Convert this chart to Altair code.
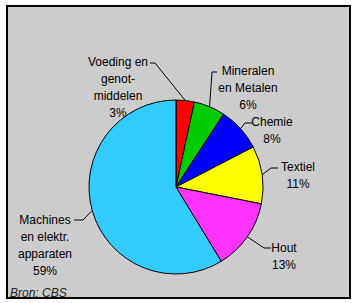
import math
import altair as alt
import pandas as pd

# ---- data ----
categories = ["Voeding en genot-middelen", "Mineralen en Metalen", "Chemie",
              "Textiel", "Hout", "Machines en elektr. apparaten"]
values = [3.4, 5.8, 8.2, 10.7, 13.2, 58.7]
label_texts = ["Voeding en\ngenot-\nmiddelen\n3%", "Mineralen\nen Metalen\n6%",
               "Chemie\n8%", "Textiel\n11%", "Hout\n13%",
               "Machines\nen elektr.\napparaten\n59%"]
colors = ["#FF0000", "#00CC00", "#0000FF", "#FFFF00", "#FF33FF", "#33CCFF"]

# ---- layout (page pixels) ----
W, H = 356, 303
PAD_L, PAD_T, PAD_R, PAD_B = 7, 6, 6, 5
CX, CY, R = 176, 187, 87
elbow_x = [155, 212, 245, 271, 264, 83]
elbow_y = [63, 72, 123, 168, 248, 220]
tick_x = [150, 217, 252, 278, 271, 74]
label_x = [118, 248, 272, 298, 284, 45]
label_y = [62, 71, 122, 167, 248, 220]

vw, vh = W - PAD_L - PAD_R, H - PAD_T - PAD_B

pie_df = pd.DataFrame({"cat": categories, "value": values,
                       "idx": list(range(len(categories)))})

# leader lines: start on pie edge at mid-angle of each slice
total = sum(values)
rows = []
cum = 0.0
for i, v in enumerate(values):
    mid = (cum + v / 2) / total * 2 * math.pi
    cum += v
    sx = CX + R * math.sin(mid)
    sy = CY - R * math.cos(mid)
    pts = [(sx, sy), (elbow_x[i], elbow_y[i]), (tick_x[i], elbow_y[i])]
    for k, (px, py) in enumerate(pts):
        rows.append({"cat": categories[i], "k": k, "x": px - PAD_L, "y": py - PAD_T})
lead_df = pd.DataFrame(rows)

lab_df = pd.DataFrame({"t": label_texts,
                       "x": [v - PAD_L for v in label_x],
                       "y": [v - PAD_T for v in label_y]})

pie = alt.Chart(pie_df).mark_arc(outerRadius=R, stroke="black", strokeWidth=1).encode(
    theta=alt.Theta("value:Q", stack=True),
    order=alt.Order("idx:Q"),
    color=alt.Color("cat:N", scale=alt.Scale(domain=categories, range=colors), legend=None),
    x=alt.value(CX - PAD_L),
    y=alt.value(CY - PAD_T),
)

leads = alt.Chart(lead_df).mark_line(color="black", strokeWidth=1).encode(
    x=alt.X("x:Q", scale=None, axis=None),
    y=alt.Y("y:Q", scale=None, axis=None),
    detail="cat:N",
    order="k:Q",
)

labels = alt.Chart(lab_df).mark_text(
    font="Liberation Sans", fontSize=12, lineBreak="\n", lineHeight=17,
    align="center", baseline="middle", color="black"
).encode(
    x=alt.X("x:Q", scale=None, axis=None),
    y=alt.Y("y:Q", scale=None, axis=None),
    text="t:N",
)

source = alt.Chart(pd.DataFrame({"t": ["Bron: CBS"]})).mark_text(
    font="Liberation Sans", fontSize=12, fontStyle="italic", align="left",
    baseline="alphabetic", color="#222222"
).encode(
    x=alt.value(10 - PAD_L),
    y=alt.value(297 - PAD_T),
    text="t:N",
)

chart = alt.layer(pie, leads, labels, source).properties(
    width=vw, height=vh,
    autosize=alt.AutoSizeParams(type="none"),
    padding={"left": PAD_L, "top": PAD_T, "right": PAD_R, "bottom": PAD_B},
    background="white",
).configure_view(fill="#CCCCCC", stroke="black", strokeWidth=2)

chart.save("out.html", embed_options={"renderer": "svg", "actions": False})
